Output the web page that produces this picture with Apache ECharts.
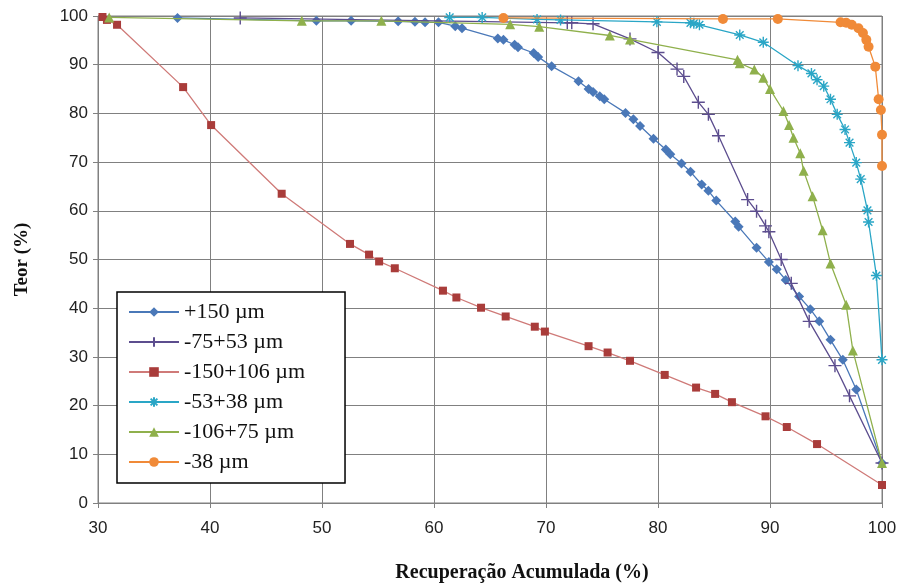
<!DOCTYPE html>
<html>
<head>
<meta charset="utf-8">
<script src="https://cdn.jsdelivr.net/npm/echarts@6/dist/echarts.min.js"></script>
<style>
  html, body { margin: 0; padding: 0; background: #fff; }
  #chart { width: 901px; height: 588px; }
</style>
</head>
<body>
<div id="chart"></div>
<script>
// Cumulative recovery (x) vs grade (y) for each size fraction
const seriesNames = ['+150 µm', '-75+53 µm', '-150+106 µm', '-53+38 µm', '-106+75 µm', '-38 µm'];

const recP150 = [37.1, 49.5, 52.6, 56.8, 58.3, 59.2, 60.4, 61.9, 62.5, 65.7, 66.2, 67.2, 67.5, 68.9, 69.3, 70.5, 72.9, 73.8, 74.2, 74.8, 75.2, 77.1, 77.8, 78.4, 79.6, 80.7, 81.1, 82.1, 82.9, 83.9, 84.5, 85.2, 86.9, 87.2, 88.8, 89.9, 90.6, 91.4, 92.6, 93.6, 94.4, 95.4, 96.5, 97.7, 100];
const teorP150 = [99.6, 99.0, 99.0, 98.9, 98.8, 98.7, 98.7, 97.9, 97.5, 95.4, 95.1, 94.1, 93.6, 92.4, 91.6, 89.7, 86.6, 85.0, 84.4, 83.5, 82.9, 80.1, 78.8, 77.4, 74.8, 72.6, 71.6, 69.7, 68.0, 65.4, 64.1, 62.1, 57.8, 56.7, 52.4, 49.5, 48.0, 45.8, 42.4, 39.8, 37.3, 33.5, 29.4, 23.3, 8.2];

const recM75 = [42.7, 71.9, 72.3, 74.2, 77.5, 80.0, 81.7, 82.3, 83.6, 84.5, 85.4, 88.0, 88.8, 89.6, 89.9, 91.0, 91.9, 93.5, 95.8, 97.1, 100];
const teorM75 = [99.6, 98.6, 98.6, 98.4, 95.3, 92.5, 89.1, 87.6, 82.3, 79.8, 75.4, 62.3, 59.9, 56.9, 55.7, 50.0, 45.1, 37.3, 28.2, 22.0, 8.2];

const recM150 = [30.4, 30.8, 31.7, 37.6, 40.1, 46.4, 52.5, 54.2, 55.1, 56.5, 60.8, 62.0, 64.2, 66.4, 69.0, 69.9, 73.8, 75.5, 77.5, 80.6, 83.4, 85.1, 86.6, 89.6, 91.5, 94.2, 100];
const teorM150 = [99.8, 99.2, 98.2, 85.4, 77.6, 63.5, 53.2, 51.0, 49.6, 48.2, 43.6, 42.2, 40.1, 38.3, 36.2, 35.2, 32.2, 30.9, 29.2, 26.3, 23.7, 22.4, 20.7, 17.8, 15.6, 12.1, 3.7];

const recM53 = [61.4, 64.3, 69.2, 71.3, 79.9, 82.9, 83.2, 83.7, 87.3, 89.4, 92.5, 93.7, 94.2, 94.8, 95.4, 96.0, 96.7, 97.1, 97.7, 98.1, 98.7, 98.8, 99.5, 100];
const teorM53 = [99.7, 99.7, 99.3, 99.2, 98.8, 98.6, 98.5, 98.2, 96.1, 94.6, 89.8, 88.2, 86.9, 85.6, 82.9, 79.8, 76.7, 74.0, 69.9, 66.5, 60.1, 57.7, 46.7, 29.4];

const recM106 = [31.0, 48.2, 55.3, 66.8, 69.4, 75.7, 77.5, 87.1, 87.3, 88.6, 89.4, 90.0, 91.2, 91.7, 92.1, 92.7, 93.0, 93.8, 94.7, 95.4, 96.8, 97.4, 100];
const teorM106 = [99.7, 99.0, 99.0, 98.3, 97.8, 96.0, 95.2, 91.0, 90.3, 89.0, 87.3, 85.0, 80.5, 77.6, 75.0, 71.8, 68.2, 63.0, 56.0, 49.2, 40.7, 31.3, 8.2];

const recM38 = [66.2, 85.8, 90.7, 96.3, 96.8, 97.3, 97.9, 98.3, 98.6, 98.8, 99.4, 99.7, 99.9, 100, 100];
const teorM38 = [99.6, 99.4, 99.4, 98.7, 98.6, 98.2, 97.5, 96.5, 95.1, 93.7, 89.6, 82.9, 80.7, 75.6, 69.2];

const xTicks = [30, 40, 50, 60, 70, 80, 90, 100];
const yTicks = [0, 10, 20, 30, 40, 50, 60, 70, 80, 90, 100];

const pairs = (xs, ys) => xs.map((x, i) => [x, ys[i]]);

// stroked marker shapes: plus and asterisk
const plusPath = 'path://M5,0 L5,10 M0,5 L10,5';
const starPath = 'path://M5,0 L5,10 M0,5 L10,5 M1.5,1.5 L8.5,8.5 M8.5,1.5 L1.5,8.5';

const styles = [
  { color: '#4a78b8', symbol: 'diamond', size: 10, stroke: false },
  { color: '#5c4d8e', symbol: plusPath, size: 13, stroke: true },
  { color: '#a93c3a', symbol: 'rect', size: 8, stroke: false, line: '#cf7a78' },
  { color: '#2aa6c6', symbol: starPath, size: 11, stroke: true },
  { color: '#8fb04c', symbol: 'triangle', size: 10, stroke: false },
  { color: '#f08a38', symbol: 'circle', size: 10, stroke: false }
];
const dataSets = [
  pairs(recP150, teorP150),
  pairs(recM75, teorM75),
  pairs(recM150, teorM150),
  pairs(recM53, teorM53),
  pairs(recM106, teorM106),
  pairs(recM38, teorM38)
];

const series = seriesNames.map((name, i) => {
  const s = styles[i];
  return {
    name: name,
    type: 'line',
    data: dataSets[i],
    symbol: s.symbol,
    symbolSize: s.size,
    showAllSymbol: true,
    animation: false,
    lineStyle: { color: s.line || s.color, width: 1.3 },
    itemStyle: s.stroke
      ? { color: s.color, borderColor: s.color, borderWidth: 1.4 }
      : { color: s.color, borderWidth: 0 },
    z: 2 + i
  };
});

const chart = echarts.init(document.getElementById('chart'), null, { renderer: 'canvas' });
chart.setOption({
  backgroundColor: '#ffffff',
  animation: false,
  grid: { left: 98, right: 19, top: 16, bottom: 82, show: true, borderColor: '#808080', borderWidth: 1 },
  xAxis: {
    type: 'value', min: 30, max: 100, interval: 10,
    name: 'Recuperação Acumulada (%)',
    nameLocation: 'middle', nameGap: 60,
    nameTextStyle: {
      fontFamily: 'Liberation Serif', fontWeight: 'bold', fontSize: 20, color: '#111',
      padding: [0, 0, 0, 64]
    },
    axisLine: { lineStyle: { color: '#808080', width: 1 } },
    axisTick: { show: true, inside: false, length: 5, lineStyle: { color: '#808080' } },
    axisLabel: {
      margin: 17, fontFamily: 'Liberation Sans Narrow, Liberation Sans', fontSize: 17, color: '#222',
      formatter: v => (xTicks.indexOf(v) >= 0 ? String(v) : '')
    },
    splitLine: { show: true, lineStyle: { color: '#808080', width: 1 } }
  },
  yAxis: {
    type: 'value', min: 0, max: 100, interval: 10,
    name: 'Teor (%)',
    nameLocation: 'middle', nameGap: 66, nameRotate: 90,
    nameTextStyle: { fontFamily: 'Liberation Serif', fontWeight: 'bold', fontSize: 19, color: '#111' },
    axisLine: { show: true, lineStyle: { color: '#808080', width: 1 } },
    axisTick: { show: true, inside: false, length: 5, lineStyle: { color: '#808080' } },
    axisLabel: {
      margin: 10, fontFamily: 'Liberation Sans Narrow, Liberation Sans', fontSize: 17, color: '#222',
      formatter: v => (yTicks.indexOf(v) >= 0 ? String(v) : '')
    },
    splitLine: { show: true, lineStyle: { color: '#808080', width: 1 } }
  },
  legend: {
    orient: 'vertical',
    left: 117, top: 292,
    backgroundColor: '#ffffff',
    borderColor: '#000000', borderWidth: 1.5, borderRadius: 0,
    padding: [9, 40, 10, 11],
    itemWidth: 50, itemHeight: 12, itemGap: 8,
    textStyle: { fontFamily: 'Liberation Serif', fontSize: 22, color: '#111' },
    data: seriesNames
  },
  series: series
});
</script>
</body>
</html>
